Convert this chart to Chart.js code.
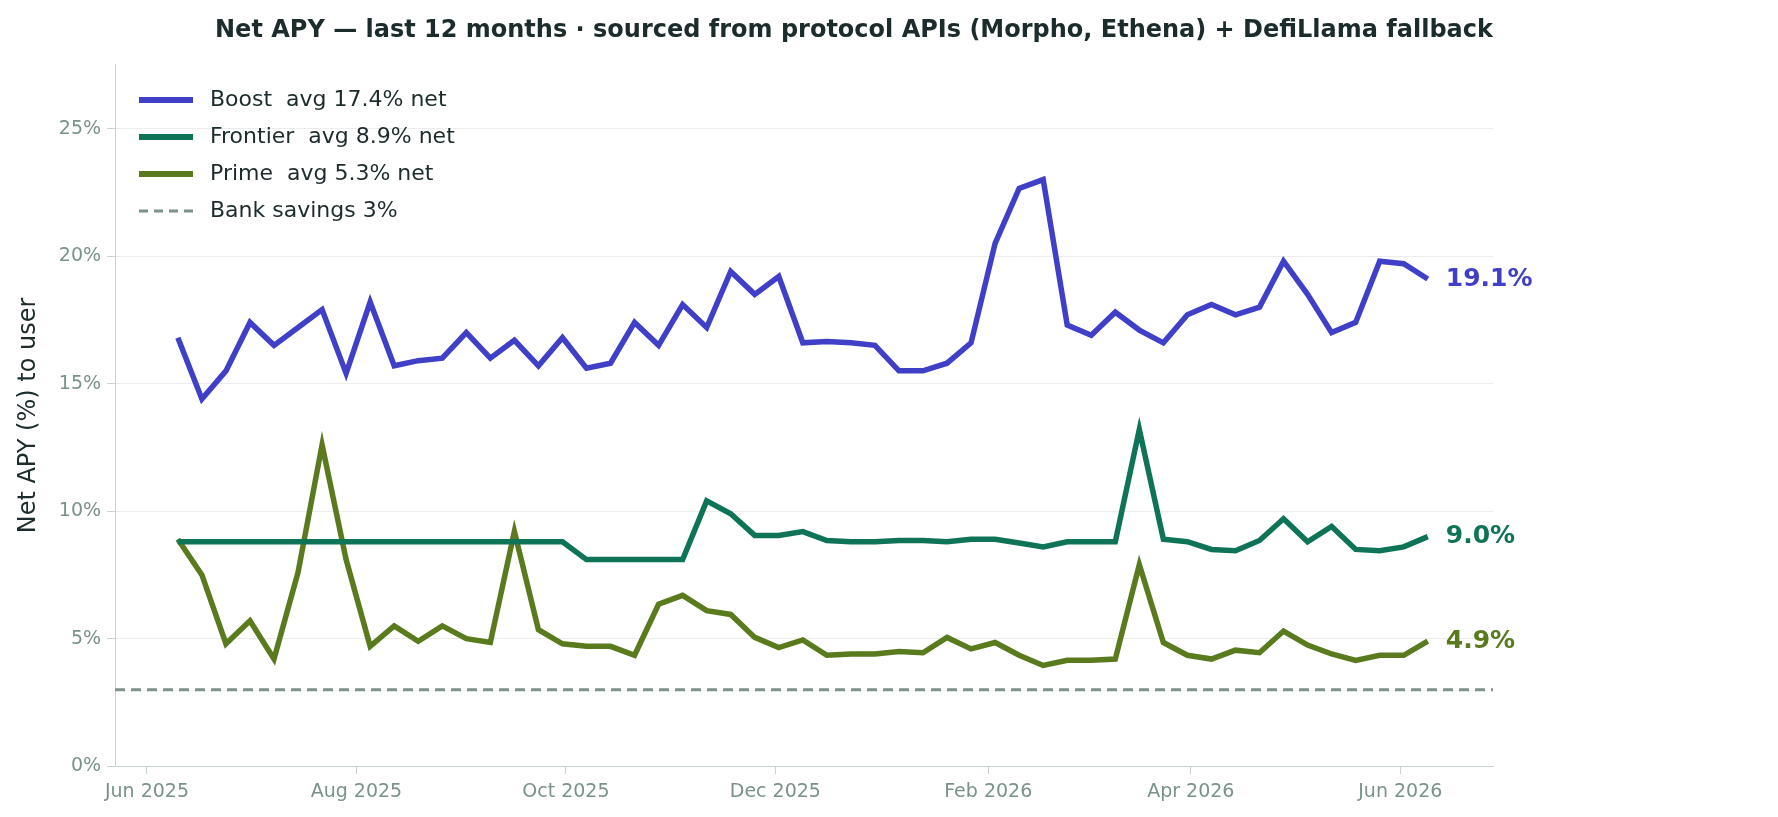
<!DOCTYPE html>
<html><head><meta charset="utf-8">
<script src="https://cdn.jsdelivr.net/npm/chart.js@4/dist/chart.umd.min.js"></script>
<style>html,body{margin:0;padding:0;background:#fff}#wrap{width:1778px;height:817px;position:relative}</style>
</head><body><div id="wrap"><canvas id="c" width="1778" height="817"></canvas></div>
<script>
const startDate = '2025-06-10';
const boost = [16.8,14.4,15.5,17.4,16.5,17.2,17.9,15.4,18.2,15.7,15.9,16.0,17.0,16.0,16.7,15.7,16.8,15.6,15.8,17.4,16.5,18.1,17.2,19.4,18.5,19.2,16.6,16.65,16.6,16.5,15.5,15.5,15.8,16.6,20.5,22.65,23.0,17.3,16.9,17.8,17.1,16.6,17.7,18.1,17.7,18.0,19.8,18.5,17.0,17.4,19.8,19.7,19.1];
const frontier = [8.8,8.8,8.8,8.8,8.8,8.8,8.8,8.8,8.8,8.8,8.8,8.8,8.8,8.8,8.8,8.8,8.8,8.1,8.1,8.1,8.1,8.1,10.4,9.9,9.05,9.05,9.2,8.85,8.8,8.8,8.85,8.85,8.8,8.9,8.9,8.75,8.6,8.8,8.8,8.8,13.2,8.9,8.8,8.5,8.45,8.85,9.7,8.8,9.4,8.5,8.45,8.6,9.0];
const prime = [8.9,7.5,4.8,5.7,4.2,7.6,12.6,8.1,4.7,5.5,4.9,5.5,5.0,4.85,9.2,5.35,4.8,4.7,4.7,4.35,6.35,6.7,6.1,5.95,5.05,4.65,4.95,4.35,4.4,4.4,4.5,4.45,5.05,4.6,4.85,4.35,3.95,4.15,4.15,4.2,7.9,4.85,4.35,4.2,4.55,4.45,5.3,4.75,4.4,4.15,4.35,4.35,4.9];
const bankRate = 3;
const seriesNames = ['Boost  avg 17.4% net','Frontier  avg 8.9% net','Prime  avg 5.3% net','Bank savings 3%'];
const endLabels = ['19.1%','9.0%','4.9%'];
const tickLabels = ['Jun 2025','Aug 2025','Oct 2025','Dec 2025','Feb 2026','Apr 2026','Jun 2026'];
const tickDates = ['2025-06-01','2025-08-01','2025-10-01','2025-12-01','2026-02-01','2026-04-01','2026-06-01'];

const base = Date.UTC(2025,5,1);
const dayOf = s => (Date.parse(s+'T00:00:00Z')-base)/86400000;
const start = dayOf(startDate);
const xs = boost.map((_,i)=>start+7*i);
const pts = arr => arr.map((v,i)=>({x:xs[i],y:v}));
const tickVals = tickDates.map(dayOf);
const colors = ['#3f3fc8','#0f7358','#5a7a1e','#7a9288'];

const overlay = {
  id:'overlay',
  afterDatasetsDraw(chart){
    const {ctx, scales:{x,y}, chartArea:a} = chart;
    ctx.save();
    ctx.font = 'bold 25px "DejaVu Sans"';
    ctx.textBaseline='middle';
    [boost,frontier,prime].forEach((arr,i)=>{
      ctx.fillStyle=colors[i];
      ctx.fillText(endLabels[i], x.getPixelForValue(xs[xs.length-1])+18, y.getPixelForValue(arr[arr.length-1]));
    });
    ctx.font = '22px "DejaVu Sans"';
    seriesNames.forEach((n,i)=>{
      const yy = 100+37*i;
      ctx.strokeStyle=colors[i];
      ctx.lineWidth = i<3?6:3;
      ctx.setLineDash(i===3?[9,6]:[]);
      ctx.beginPath();ctx.moveTo(139,yy);ctx.lineTo(193,yy);ctx.stroke();
      ctx.setLineDash([]);
      ctx.fillStyle='#1c2b2b';
      ctx.fillText(n,210,yy);
    });
    ctx.restore();
  }
};

new Chart(document.getElementById('c'),{
  type:'line',
  data:{datasets:[
    {data:pts(boost),borderColor:colors[0],borderWidth:5.5,pointRadius:0,tension:0},
    {data:pts(frontier),borderColor:colors[1],borderWidth:5.5,pointRadius:0,tension:0},
    {data:pts(prime),borderColor:colors[2],borderWidth:5.5,pointRadius:0,tension:0},
    {data:[{x:-9.3,y:bankRate},{x:392,y:bankRate}],borderColor:colors[3],borderWidth:3,borderDash:[10,6],pointRadius:0}
  ]},
  options:{
    responsive:false, animation:false, devicePixelRatio:1,
    layout:{padding:{left:10,right:285,top:16,bottom:8}},
    plugins:{legend:{display:false},tooltip:{enabled:false},
      title:{display:true,text:'Net APY — last 12 months · sourced from protocol APIs (Morpho, Ethena) + DefiLlama fallback',
        font:{family:'DejaVu Sans',size:24,weight:'bold'},color:'#1c2b2b',align:'end',padding:{top:0,bottom:20},
        fullSize:true},
    },
    scales:{
      x:{type:'linear',min:-9.3,max:392,
        afterBuildTicks(s){s.ticks=tickVals.map(v=>({value:v}));},
        ticks:{callback:(v)=>tickLabels[tickVals.indexOf(v)]??'',color:'#7a9288',font:{family:'DejaVu Sans',size:19},maxRotation:0,autoSkip:false,padding:6},
        grid:{display:true,drawOnChartArea:false,drawTicks:true,tickLength:8,tickColor:'#c9d4d0'},
        border:{color:'#c9d4d0'}},
      y:{min:0,max:27.5,
        afterBuildTicks(s){s.ticks=[0,5,10,15,20,25].map(v=>({value:v}));},
        ticks:{callback:v=>v+'%',color:'#7a9288',font:{family:'DejaVu Sans',size:19},padding:6},
        grid:{color:'#ececec',tickLength:8,tickColor:'#c9d4d0'},
        border:{color:'#c9d4d0'},
        title:{display:true,text:'Net APY (%) to user',color:'#1c2b2b',font:{family:'DejaVu Sans',size:24},padding:{bottom:10}}}
    }
  },
  plugins:[overlay]
});
</script></body></html>
